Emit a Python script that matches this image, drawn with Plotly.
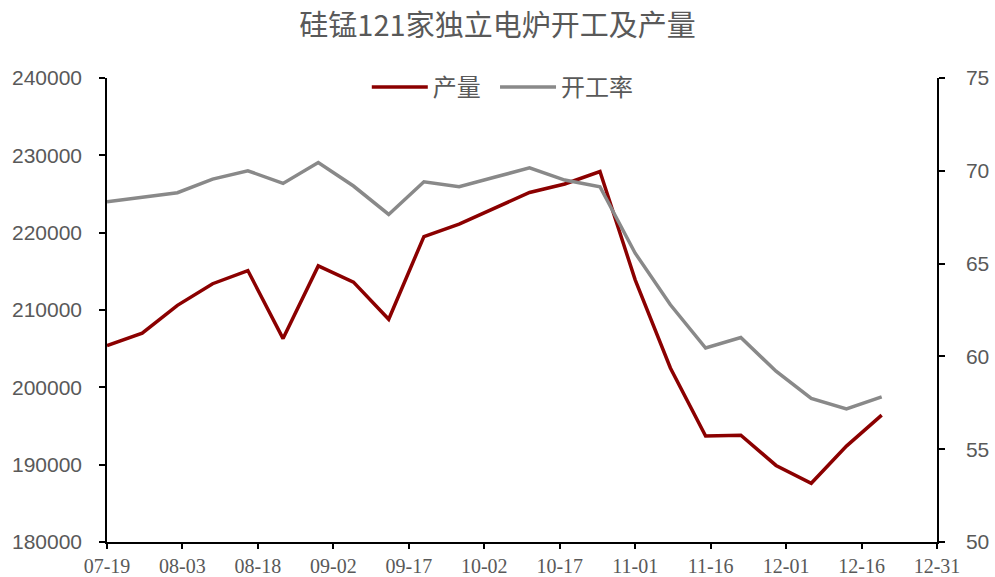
import plotly.graph_objects as go

dates = ["2024-07-19", "2024-07-26", "2024-08-02", "2024-08-09", "2024-08-16", "2024-08-23",
         "2024-08-30", "2024-09-06", "2024-09-13", "2024-09-20", "2024-09-27", "2024-10-04",
         "2024-10-11", "2024-10-18", "2024-10-25", "2024-11-01", "2024-11-08", "2024-11-15",
         "2024-11-22", "2024-11-29", "2024-12-06", "2024-12-13", "2024-12-20"]
production = [205400, 207000, 210600, 213400, 215100, 206300, 215700, 213600, 208800, 219500,
              221100, 223200, 225200, 226300, 227900, 213900, 202500, 193700, 193800, 189900,
              187600, 192400, 196400]
rate = [68.33, 68.57, 68.82, 69.55, 70.0, 69.32, 70.45, 69.18, 67.65, 69.41, 69.14, 69.65,
        70.16, 69.5, 69.14, 65.56, 62.78, 60.45, 61.02, 59.2, 57.74, 57.17, 57.82]

title_text = "硅锰121家独立电炉开工及产量"
name_prod = "产量"
name_rate = "开工率"

grey_txt = "#595959"

W, H = 995, 577

fig = go.Figure()
fig.add_trace(go.Scatter(x=dates, y=production, name=name_prod, mode="lines",
                         legend="legend",
                         line=dict(color="#8B0000", width=3.5)))
fig.add_trace(go.Scatter(x=dates, y=rate, name=name_rate, mode="lines", yaxis="y2",
                         legend="legend2",
                         line=dict(color="#898989", width=3.5)))

legend_common = dict(orientation="h", xanchor="left", y=0.98, yanchor="middle",
                     font=dict(family="Noto Sans CJK SC", size=24, color=grey_txt),
                     bgcolor="rgba(0,0,0,0)", itemwidth=56)

fig.update_layout(
    width=W, height=H,
    margin=dict(l=107, r=58, t=77.5, b=34.5, autoexpand=False),
    paper_bgcolor="white", plot_bgcolor="white",
    title=dict(text=title_text, x=0.5, xanchor="center", yref="container",
               y=1 - 26 / H, yanchor="middle",
               font=dict(family="Noto Sans CJK SC", size=29, color=grey_txt)),
    legend=dict(x=0.313, **legend_common),
    legend2=dict(x=0.4675, **legend_common),
    showlegend=True,
    xaxis=dict(type="date", range=["2024-07-19", "2024-12-31"], automargin=False,
               tick0="2024-07-19", dtick=15 * 86400000, tickformat="%m-%d",
               showgrid=False, zeroline=False,
               showline=True, linecolor="black", linewidth=1.5,
               ticks="outside", ticklen=5, tickcolor="black", tickwidth=1.5,
               tickfont=dict(family="Liberation Serif", size=20, color=grey_txt)),
    yaxis=dict(range=[180000, 240000], dtick=10000, tickformat="d", automargin=False,
               showgrid=False, zeroline=False,
               showline=True, linecolor="black", linewidth=1.5,
               ticks="outside", ticklen=6, tickcolor="black", tickwidth=1.5,
               ticklabelstandoff=13,
               tickfont=dict(family="Liberation Sans", size=21, color=grey_txt)),
    yaxis2=dict(range=[50, 75], dtick=5, overlaying="y", side="right", automargin=False,
                showgrid=False, zeroline=False,
                showline=True, linecolor="black", linewidth=1.5,
                ticks="outside", ticklen=6, tickcolor="black", tickwidth=1.5,
                ticklabelstandoff=17,
                tickfont=dict(family="Liberation Sans", size=21, color=grey_txt)),
)

fig.write_html("out.html", config={"displayModeBar": False},
               post_script="document.body.style.margin='0';")
